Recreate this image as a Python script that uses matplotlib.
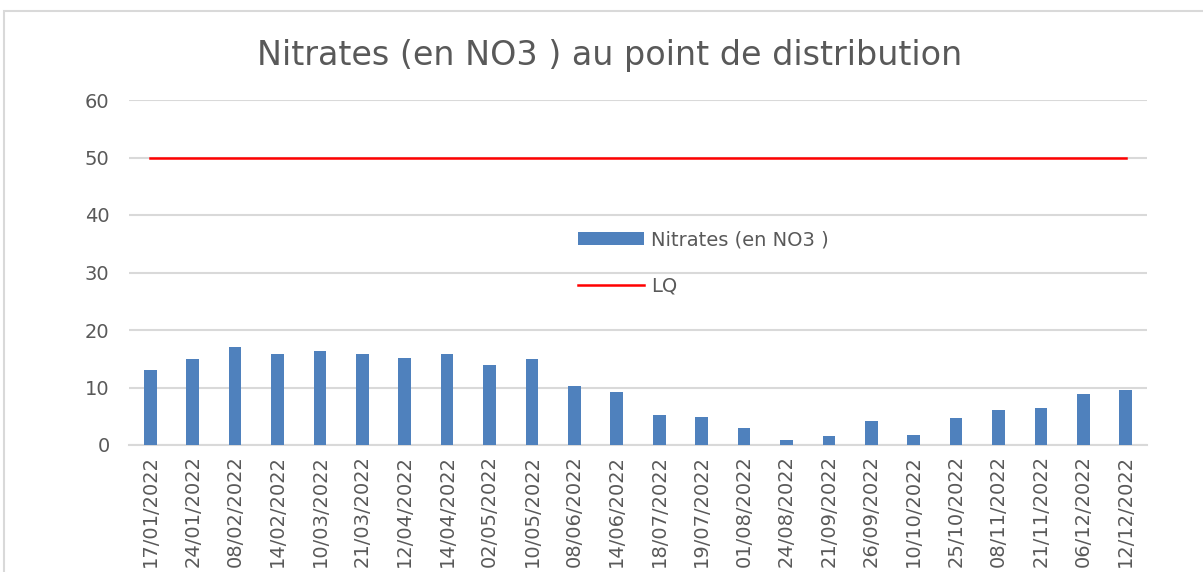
import matplotlib.pyplot as plt
from matplotlib.patches import Rectangle

dates = ['17/01/2022', '24/01/2022', '08/02/2022', '14/02/2022', '10/03/2022',
         '21/03/2022', '12/04/2022', '14/04/2022', '02/05/2022', '10/05/2022',
         '08/06/2022', '14/06/2022', '18/07/2022', '19/07/2022', '01/08/2022',
         '24/08/2022', '21/09/2022', '26/09/2022', '10/10/2022', '25/10/2022',
         '08/11/2022', '21/11/2022', '06/12/2022', '12/12/2022']
nitrates = [13.0, 15.0, 17.0, 15.9, 16.3, 15.9, 15.2, 15.9, 13.9, 15.0,
            10.2, 9.3, 5.3, 4.9, 3.0, 0.8, 1.5, 4.1, 1.7, 4.75,
            6.1, 6.5, 8.9, 9.6]
lq = [50] * len(dates)
yticks = [0, 10, 20, 30, 40, 50, 60]

W, H = 1203, 572
fig = plt.figure(figsize=(W / 100, H / 100), dpi=100)
fig.patches.append(Rectangle((4 / W, -0.1), 1.2, 1 - 11 / H + 0.1,
                             transform=fig.transFigure, fill=False,
                             edgecolor='#D9D9D9', linewidth=1.5))

ax = fig.add_axes([129 / W, (H - 445) / H, (1147 - 129) / W, (445 - 100) / H])
x = list(range(len(dates)))
bars = ax.bar(x, nitrates, width=0.3, color='#4F81BD', label='Nitrates (en NO3 )', zorder=3)
line, = ax.plot(x, lq, color='#FF0000', linewidth=1.8, label='LQ', zorder=4)

ax.set_ylim(0, 60)
ax.set_xlim(-0.5, len(dates) - 0.5)
ax.set_yticks(yticks)
ax.set_xticks(x)
ax.set_xticklabels(dates, rotation=90)
ax.grid(axis='y', color='#D9D9D9', linewidth=1.5, zorder=0)
ax.tick_params(length=0, labelsize=14, colors='#595959', pad=14)
ax.tick_params(axis='x', labelsize=14, pad=7)
for s in ['top', 'right', 'left']:
    ax.spines[s].set_visible(False)
ax.spines['bottom'].set_color('#D9D9D9')
ax.spines['bottom'].set_linewidth(1.5)

fig.text(610 / W, 1 - 55 / H, 'Nitrates (en NO3 ) au point de distribution',
         ha='center', va='center', fontsize=24, color='#595959')

leg = ax.legend([bars, line], ['Nitrates (en NO3 )', 'LQ'],
                loc='upper left', bbox_to_anchor=(560 / W, 1 - 213 / H),
                bbox_transform=fig.transFigure, frameon=False, fontsize=14,
                handlelength=3.4, handleheight=0.6, labelspacing=1.4,
                handletextpad=0.4)
for t in leg.get_texts():
    t.set_color('#595959')

fig.savefig('out.png', dpi=100)
